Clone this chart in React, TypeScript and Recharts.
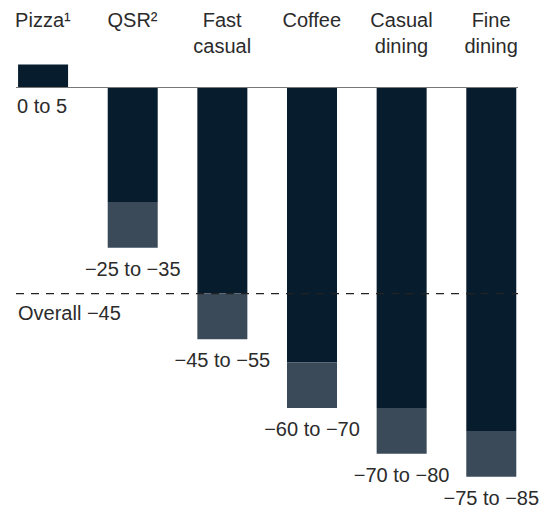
import { BarChart, Bar, XAxis, YAxis, ReferenceLine, LabelList } from 'recharts';

const categories = ['Pizza¹', 'QSR²', 'Fast casual', 'Coffee', 'Casual dining', 'Fine dining'];
const rangeStart = [0, -25, -45, -60, -70, -75];
const rangeEnd = [5, -35, -55, -70, -80, -85];
const overall = -45;

const DARK = '#071d2d';
const LIGHT = '#3a4a58';
const TEXT = '#2b2b2b';
const FONT = '"Liberation Sans", Arial, sans-serif';

const fmt = (v: number) => (v < 0 ? `\u2212${Math.abs(v)}` : `${v}`);

const data = categories.map((name, i) => {
  const positive = rangeStart[i] >= 0;
  const label = `${fmt(rangeStart[i])} to ${fmt(rangeEnd[i])}`;
  return {
    idx: i,
    name,
    core: positive ? rangeEnd[i] : rangeStart[i],
    spread: positive ? 0 : rangeEnd[i] - rangeStart[i],
    posLabel: positive ? label : '',
    negLabel: positive ? '' : label,
  };
});

const CategoryTick = (props: any) => {
  const { x, y, payload } = props;
  const lines = String(categories[payload.value] ?? '').split(' ');
  return (
    <g>
      {lines.map((line, k) => (
        <text
          key={k}
          x={x}
          y={y - 38 + k * 26}
          textAnchor="middle"
          fontSize={20}
          fontFamily={FONT}
          fill={TEXT}
        >
          {line}
        </text>
      ))}
    </g>
  );
};

// label under the positive bar (left aligned, below the zero line)
const PositiveLabel = (props: any) => {
  const vb = props.viewBox || props;
  if (!props.value) return null;
  const bottom = Math.max(vb.y, vb.y + vb.height);
  return (
    <text x={vb.x - 1} y={bottom + 25.5} fontSize={20} fontFamily={FONT} fill={TEXT}>
      {props.value}
    </text>
  );
};

// label under the end of each negative range
const RangeLabel = (props: any) => {
  const vb = props.viewBox || props;
  if (!props.value) return null;
  const bottom = Math.max(vb.y, vb.y + vb.height);
  return (
    <text
      x={vb.x + vb.width / 2}
      y={bottom + 28}
      textAnchor="middle"
      fontSize={20}
      fontFamily={FONT}
      fill={TEXT}
    >
      {props.value}
    </text>
  );
};

const OverallLabel = (props: any) => {
  const vb = props.viewBox || {};
  return (
    <text x={vb.x + 2} y={vb.y + 26} fontSize={20} fontFamily={FONT} fill={TEXT}>
      {`Overall ${fmt(overall)}`}
    </text>
  );
};

export default function App() {
  return (
    <div style={{ position: 'absolute', left: 0, top: 0, background: '#fff' }}>
      <BarChart
        width={553}
        height={508}
        data={data}
        margin={{ top: 4.6, right: 35, bottom: 31.3, left: 16 }}
      >
        <XAxis
          xAxisId={0}
          type="number"
          dataKey="idx"
          orientation="top"
          domain={[-0.3, 5.3]}
          ticks={[0, 1, 2, 3, 4, 5]}
          height={60}
          axisLine={false}
          tickLine={false}
          tickSize={0}
          tickMargin={0}
          interval={0}
          tick={<CategoryTick />}
        />
        <YAxis hide type="number" domain={[Math.min(...rangeEnd), Math.max(...rangeEnd)]} />
        <ReferenceLine y={overall} stroke="#222" strokeWidth={1.2} strokeDasharray="8 7" label={<OverallLabel />} />
        <Bar dataKey="core" stackId="a" fill={DARK} barSize={50} isAnimationActive={false}>
          <LabelList dataKey="posLabel" content={<PositiveLabel />} />
        </Bar>
        <Bar dataKey="spread" stackId="a" fill={LIGHT} barSize={50} isAnimationActive={false}>
          <LabelList dataKey="negLabel" content={<RangeLabel />} />
        </Bar>
        <ReferenceLine y={0} stroke="#777" strokeWidth={1.2} />
      </BarChart>
    </div>
  );
}
